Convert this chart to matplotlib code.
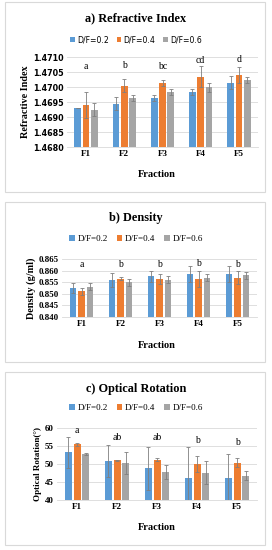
import numpy as np
import matplotlib
matplotlib.use("Agg")
import matplotlib.pyplot as plt
from matplotlib.patches import Rectangle

fractions = ["F1", "F2", "F3", "F4", "F5"]
series = ["D/F=0.2", "D/F=0.4", "D/F=0.6"]
colors = ["#5B9BD5", "#ED7D31", "#A5A5A5"]

# a) refractive index
ri_vals = [
    [1.4693, 1.46945, 1.46965, 1.46985, 1.47015],
    [1.4694, 1.47005, 1.47015, 1.47035, 1.4704],
    [1.46925, 1.46965, 1.46985, 1.4700, 1.47025],
]
ri_err = [
    [0.0, 0.00022, 0.0001, 0.0001, 0.00022],
    [0.00043, 0.00022, 0.0001, 0.00035, 0.00028],
    [0.00022, 0.0001, 0.0001, 0.00015, 0.0001],
]
ri_letters = ["a", "b", "bc", "cd", "d"]
ri_letter_y = [1.47067, 1.47071, 1.47067, 1.47090, 1.47092]

# b) density
de_vals = [
    [0.8525, 0.856, 0.8575, 0.8585, 0.8585],
    [0.851, 0.8565, 0.8565, 0.8565, 0.857],
    [0.853, 0.855, 0.856, 0.857, 0.858],
]
de_err = [
    [0.0022, 0.003, 0.0022, 0.0035, 0.0035],
    [0.0015, 0.0007, 0.0022, 0.0035, 0.0028],
    [0.0015, 0.0015, 0.0015, 0.0015, 0.0015],
]
de_letters = ["a", "b", "b", "b", "b"]
de_letter_y = [0.8625, 0.8627, 0.8627, 0.8630, 0.8627]

# c) optical rotation
op_vals = [
    [53.2, 50.8, 48.8, 46.2, 46.1],
    [55.5, 51.0, 51.2, 50.0, 50.4],
    [52.8, 50.2, 47.8, 47.6, 46.8],
]
op_err = [
    [4.4, 4.5, 6.0, 8.6, 6.7],
    [0.4, 0.2, 0.4, 2.3, 1.3],
    [0.3, 3.0, 2.0, 3.2, 1.2],
]
op_letters = ["a", "ab", "ab", "b", "b"]
op_letter_y = [59.2, 57.4, 57.4, 56.6, 56.0]

W, H = 272, 550
fig = plt.figure(figsize=(W / 100, H / 100), dpi=100)
serif = "Liberation Serif"


def px_axes(x0, y0, x1, y1):
    return fig.add_axes([x0 / W, 1 - y1 / H, (x1 - x0) / W, (y1 - y0) / H])


def frame(y0, y1):
    fig.patches.append(Rectangle((5 / W, 1 - y1 / H), 260 / W, (y1 - y0) / H,
                                 transform=fig.transFigure, fill=False,
                                 edgecolor="#D9D9D9", linewidth=0.8))


def panel(box, vals, err, letters, letter_y, ylim, yticks, fmt, ylabel,
          ylab_size, title, title_y, legend_y, xlab_y, tick_font, leg_font):
    ax = px_axes(*box)
    x = np.arange(len(fractions))
    w = 0.175
    step = 0.218
    for i in range(3):
        ax.bar(x + (i - 1) * step, vals[i], w, color=colors[i], zorder=2,
               yerr=err[i], error_kw=dict(ecolor="#7F7F7F", elinewidth=0.6,
                                          capsize=1.5, capthick=0.6),
               label=series[i])
    ax.set_xlim(-0.5, 4.5)
    ax.set_ylim(*ylim)
    ax.set_yticks(yticks)
    tsize = 5.8 if tick_font != serif else 6.5
    ax.set_yticklabels([fmt % t for t in yticks], fontsize=tsize,
                       family=tick_font, fontweight="bold")
    ax.set_xticks(x)
    ax.set_xticklabels(fractions, fontsize=6.5, family=serif, fontweight="bold")
    ax.tick_params(length=0, pad=2.5)
    ax.grid(axis="y", color="#D9D9D9", linewidth=0.6, zorder=0)
    for s in ["top", "right", "left"]:
        ax.spines[s].set_visible(False)
    ax.spines["bottom"].set_color("#D9D9D9")
    ax.spines["bottom"].set_linewidth(0.6)
    ax.set_ylabel(ylabel, fontsize=ylab_size, family=serif, fontweight="bold",
                  labelpad=2)
    for xi, lt, ly in zip(x, letters, letter_y):
        ax.text(xi, ly, lt, ha="center", va="center", fontsize=7,
                family=serif)
    fig.text(136 / W, 1 - title_y / H, title, ha="center", va="center",
             fontsize=8.8, family=serif, fontweight="bold")
    fig.text(157 / W, 1 - xlab_y / H, "Fraction", ha="center", va="center",
             fontsize=7.5, family=serif, fontweight="bold")
    lsize = 5.6 if leg_font != serif else 6.5
    ax.legend(loc="center", bbox_to_anchor=(136 / W, 1 - legend_y / H),
              bbox_transform=fig.transFigure, ncol=3, frameon=False,
              prop=dict(family=leg_font, size=lsize), handlelength=0.6,
              handleheight=0.6, handletextpad=0.3, columnspacing=1.0)
    return ax


frame(2, 192)
panel((67, 57, 258, 147), ri_vals, ri_err, ri_letters, ri_letter_y,
      (1.4680, 1.4710), np.arange(1.4680, 1.47101, 0.0005), "%.4f",
      "Refractive Index", 7.3, "a) Refractive Index", 18, 40, 175,
      "DejaVu Sans", "DejaVu Sans")

frame(202, 362)
panel((62, 259, 257, 317), de_vals, de_err, de_letters, de_letter_y,
      (0.840, 0.865), np.arange(0.840, 0.8651, 0.005), "%.3f",
      "Density (g/ml)", 7.3, "b) Density", 218, 239, 345, serif, serif)

frame(372, 545)
panel((57, 428, 257, 500), op_vals, op_err, op_letters, op_letter_y,
      (40, 60), np.arange(40, 61, 5), "%d",
      "Optical Rotation(°)", 6.5, "c) Optical Rotation", 389, 408, 528,
      serif, serif)

fig.savefig("out.png", dpi=100)
